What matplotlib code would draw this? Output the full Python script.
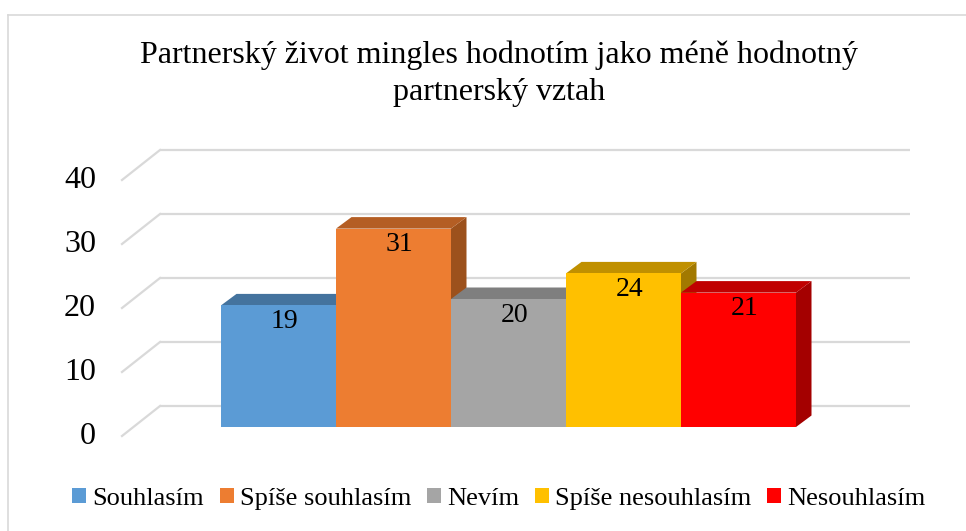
import matplotlib
matplotlib.use("Agg")
import matplotlib.pyplot as plt
from matplotlib.patches import Polygon, Patch
import numpy as np

categories = ["Souhlasím", "Spíše souhlasím", "Nevím", "Spíše nesouhlasím", "Nesouhlasím"]
values = [19, 31, 20, 24, 21]
front_colors = ["#5B9BD5", "#ED7D31", "#A5A5A5", "#FFC000", "#FF0000"]
top_colors = ["#44739E", "#B45E24", "#7F7F7F", "#C09000", "#C00000"]
side_colors = ["#3A6488", "#9C511C", "#6E6E6E", "#A27900", "#A40000"]
yticks = [0, 10, 20, 30, 40]
title_lines = ["Partnerský život mingles hodnotím jako méně hodnotný", "partnerský vztah"]

W, H = 966, 531
fig = plt.figure(figsize=(W / 100, H / 100), dpi=100)
ax = fig.add_axes([0, 0, 1, 1])
ax.set_axis_off()

# pixel mapping (bar plane)
X0, PX_X = 278.5, 115.0   # pixel x of category 0 centre, px per category
Y0, PX_Y = 427.0, 6.4     # pixel y (from top) of value 0, px per unit
ax.set_xlim((0 - X0) / PX_X, (W - X0) / PX_X)
ax.set_ylim((Y0 - H) / PX_Y, (Y0 - 0) / PX_Y)

def dxu(px):
    return px / PX_X

def dyu(px):
    return -px / PX_Y  # px measured downward

serif = "Liberation Serif"

# walls / gridlines
back_dx, back_dy = dxu(28), dyu(-21)
front_dx, front_dy = dxu(-12), dyu(9)
wall_left_back = dxu(160 - X0)
wall_right_back = dxu(910 - X0)
wall_left_front = dxu(122 - X0)
grid_col = "#D9D9D9"
for v in yticks:
    ax.plot([wall_left_back, wall_right_back], [v + back_dy, v + back_dy],
            color=grid_col, lw=1.6, zorder=1, solid_capstyle="butt")
    ax.plot([wall_left_front, wall_left_back], [v + front_dy, v + back_dy],
            color=grid_col, lw=1.6, zorder=1)
    ax.text(wall_left_front - dxu(26), v + front_dy, str(v), ha="right", va="center",
            fontsize=23, family=serif, color="black")

# bars
x = np.arange(len(values))
ddx, ddy = dxu(15.5), dyu(-11.5)
for i, v in enumerate(values):
    z = 2 + i * 3
    side = Polygon([(i + 0.5, 0), (i + 0.5, v), (i + 0.5 + ddx, v + ddy), (i + 0.5 + ddx, ddy)],
                   closed=True, facecolor=side_colors[i], edgecolor="none", zorder=z)
    top = Polygon([(i - 0.5, v), (i + 0.5, v), (i + 0.5 + ddx, v + ddy), (i - 0.5 + ddx, v + ddy)],
                  closed=True, facecolor=top_colors[i], edgecolor="none", zorder=z + 1)
    ax.add_patch(side)
    ax.add_patch(top)
    ax.bar(i, v, width=1.0, color=front_colors[i], edgecolor="none", zorder=z + 2)
    ax.text(i + dxu(6), v + dyu(16), str(v), ha="center", va="center",
            fontsize=20, family=serif, color="black", zorder=50)

# title (two centred lines)
fig.text(499 / W, 1 - 63.5 / H, title_lines[0], ha="center", va="baseline", fontsize=23,
         family=serif)
fig.text(499 / W, 1 - 99.5 / H, title_lines[1], ha="center", va="baseline", fontsize=23,
         family=serif)

# border
ax.plot([dxu(7.5 - X0), dxu(7.5 - X0)], [(Y0 - H) / PX_Y, (Y0 - 15) / PX_Y], color="#D9D9D9", lw=1.2)
ax.plot([dxu(7.5 - X0), dxu(W - X0)], [(Y0 - 15) / PX_Y, (Y0 - 15) / PX_Y], color="#D9D9D9", lw=1.2)

# legend
handles = [Patch(facecolor=c, edgecolor="none") for c in front_colors]
leg = fig.legend(handles, categories, loc="center", bbox_to_anchor=(499 / W, 1 - 499 / H),
                 ncol=5, frameon=False, prop={"family": serif, "size": 19},
                 handlelength=0.53, handleheight=0.53, handletextpad=0.25,
                 columnspacing=0.58, borderaxespad=0, borderpad=0)

fig.savefig("out.png", dpi=100)
